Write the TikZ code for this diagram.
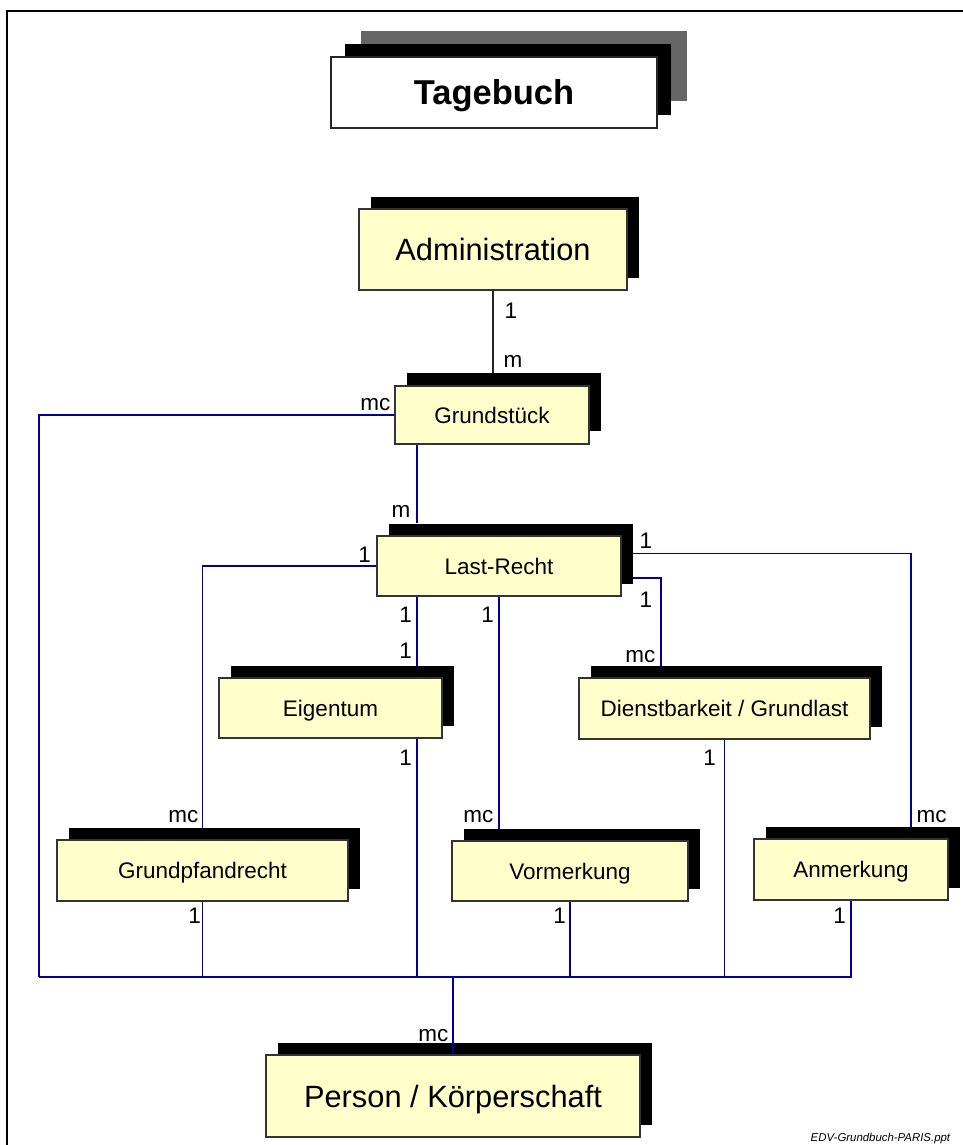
\documentclass[tikz,border=0pt]{standalone}
\usepackage{fontspec}
\setmainfont{Liberation Sans}
\usetikzlibrary{calc,backgrounds}
\definecolor{entfill}{RGB}{255,255,204}
\definecolor{linkblue}{RGB}{0,0,160}
\definecolor{layergray}{RGB}{102,102,102}
\begin{document}
\begin{tikzpicture}[x=1pt,y=-1pt,
  entity/.style={draw=black!80, line width=1.3pt, fill=entfill, inner sep=0pt,
    font=\fontsize{22.5}{27}\selectfont, text height=16.1pt, text depth=0pt},
  bigentity/.style={entity, font=\fontsize{30.8}{36}\selectfont, text height=22pt},
  backplate/.style={fill=black, draw=none, inner sep=0pt},
  lbl/.style={inner sep=0pt, font=\fontsize{22.5}{27}\selectfont},
  link/.style={draw=linkblue, line width=1.7pt},
  bus/.style={draw=linkblue, line width=2.4pt},
]
\useasboundingbox (0,0) rectangle (963,1145);

% page frame
\draw[line width=2pt] (6.8,1200) -- (6.8,11.3) -- (1000,11.3);

% title plate, three layers
\node[fill=layergray, inner sep=0pt, minimum width=326, minimum height=70] (tb-g) at (524,66) {};
\node[backplate, minimum width=326, minimum height=71] (tb-b) at (508,79.5) {};
\node[draw=black!85, line width=1.3pt, fill=white, inner sep=0pt, minimum width=326, minimum height=71,
  font=\bfseries\fontsize{34.5}{40}\selectfont, text height=24.7pt, text depth=0pt] (tb) at (494,92.5) {Tagebuch};

% entities: shadow plate first, then the front box
\node[backplate, minimum width=268, minimum height=81] (adm-s) at (505,237.5) {};
\node[bigentity, minimum width=268, minimum height=81] (adm) at (493,249.5) {Administration};

\node[backplate, minimum width=194, minimum height=58] (grd-s) at (504,402) {};
\node[entity, minimum width=194, minimum height=58] (grd) at (492,415) {Grundstück};

\node[backplate, minimum width=244, minimum height=60] (lr-s) at (511,553.5) {};
\node[entity, minimum width=244, minimum height=60] (lr) at (499,566) {Last-Recht};

\node[backplate, minimum width=223, minimum height=60] (eig-s) at (342.5,696) {};
\node[entity, minimum width=223, minimum height=60] (eig) at (330.5,708) {Eigentum};

\node[backplate, minimum width=291, minimum height=61] (dst-s) at (736.5,696.5) {};
\node[entity, minimum width=291, minimum height=61] (dst) at (724.5,708.5) {Dienstbarkeit / Grundlast};

\node[backplate, minimum width=291, minimum height=61] (gpf-s) at (214.5,858.5) {};
\node[entity, minimum width=291, minimum height=61] (gpf) at (202.5,870.5) {Grundpfandrecht};

\node[backplate, minimum width=236, minimum height=60] (vor-s) at (582,859) {};
\node[entity, minimum width=236, minimum height=60] (vor) at (570,871) {Vormerkung};

\node[backplate, minimum width=194, minimum height=61] (anm-s) at (863,857.5) {};
\node[entity, minimum width=194, minimum height=61] (anm) at (851,869.5) {Anmerkung};

\node[backplate, minimum width=374, minimum height=82] (per-s) at (465,1084) {};
\node[bigentity, minimum width=374, minimum height=82] (per) at (453,1096) {Person / Körperschaft};

% routing columns and the collecting bus
\coordinate (col-a) at (417,0);
\coordinate (col-c) at (661,0);
\coordinate (col-d) at (911,0);
\coordinate (bus-left) at (39,977);

\begin{scope}[on background layer]
  \draw[line width=1.3pt, black!85] (adm.south) -- (adm.south |- grd-s.north);
  \draw[link] (grd.west) -| (bus-left);
  \draw[link] (grd.south -| col-a) -- (lr-s.north -| col-a);
  \draw[link] (lr.west) -| (gpf.north |- gpf-s.north);
  \draw[link] (lr.south -| col-a) -- (eig-s.north -| col-a);
  \draw[link] (lr.south) -- (lr.south |- vor-s.north);
  \draw[link] (lr-s.east) -| (col-d |- anm-s.north);
  \draw[link] ($(lr-s.east)+(0,24.5)$) -| (col-c |- dst-s.north);
  \draw[link] (gpf.south) -- (gpf.south |- bus-left);
  \draw[link] (eig.south -| col-a) -- (bus-left -| col-a);
  \draw[link] (vor.south) -- (vor.south |- bus-left);
  \draw[link] (dst.south) -- (dst.south |- bus-left);
  \draw[link] (anm.south) |- (dst.south |- bus-left);
  \draw[bus] (bus-left) -- (dst.south |- bus-left);
\end{scope}
\draw[linkblue, line width=2.8pt] (per.north |- bus-left) -- (per.north);

% cardinalities
\node[lbl, anchor=base west] (c-adm) at (504.5,318) {1};
\node[lbl, anchor=base west] (c-grd-top) at (503.5,367) {m};
\node[lbl, anchor=base east] (c-grd-left) at (390.5,410) {mc};
\node[lbl, anchor=base east] (c-lr-top) at (410.5,517) {m};
\node[lbl, anchor=base east] (c-lr-left) at (371,562) {1};
\node[lbl, anchor=base west] (c-lr-r1) at (639.5,548) {1};
\node[lbl, anchor=base west] (c-lr-r2) at (639.5,607) {1};
\node[lbl, anchor=base east] (c-dst-top) at (655.5,662) {mc};
\node[lbl, anchor=base east] (c-lr-b1) at (412,622) {1};
\node[lbl, anchor=base east] (c-lr-b2) at (494,622) {1};
\node[lbl, anchor=base east] (c-eig-top) at (412,658) {1};
\node[lbl, anchor=base east] (c-eig-bot) at (412,765) {1};
\node[lbl, anchor=base east] (c-dst-bot) at (716,765) {1};
\node[lbl, anchor=base east] (c-gpf-top) at (198.5,822) {mc};
\node[lbl, anchor=base east] (c-gpf-bot) at (201,923) {1};
\node[lbl, anchor=base east] (c-vor-top) at (493.5,822) {mc};
\node[lbl, anchor=base east] (c-vor-bot) at (566,923) {1};
\node[lbl, anchor=base west] (c-anm-top) at (916.5,822) {mc};
\node[lbl, anchor=base east] (c-anm-bot) at (846,923) {1};
\node[lbl, anchor=base east] (c-per-top) at (448.5,1041) {mc};

% file name in the corner
\node[inner sep=0pt, anchor=base west, font=\fontsize{11.4}{13}\selectfont\itshape] (footer) at (810.5,1141.5) {EDV-Grundbuch-PARIS.ppt};
\end{tikzpicture}
\end{document}
